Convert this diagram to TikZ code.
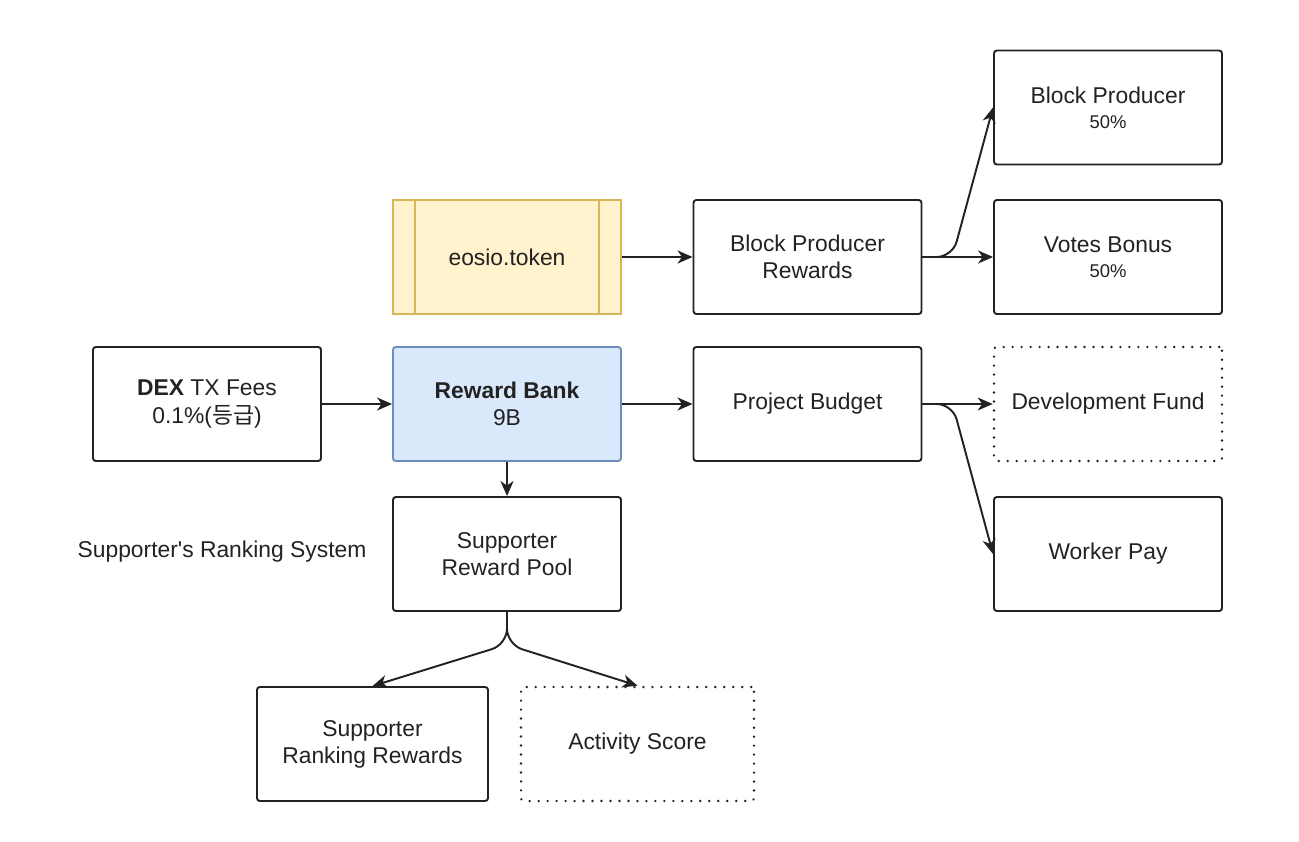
\documentclass[tikz,border=0pt]{standalone}
\usepackage{fontspec}
\setmainfont{Liberation Sans}
\newfontfamily\krfont{Noto Sans CJK KR}
\usetikzlibrary{arrows.meta,positioning,calc}
\definecolor{ink}{HTML}{222222}
\definecolor{tokfill}{HTML}{FFF2CC}
\definecolor{tokline}{HTML}{D6B656}
\definecolor{bankfill}{HTML}{DAE8FC}
\definecolor{bankline}{HTML}{6C8EBF}
\tikzset{
  box/.style={draw=ink, line width=1.1pt, rounded corners=1.6pt, align=center, fill=white,
    minimum width=4.56cm, minimum height=2.28cm, inner sep=1mm, text=ink,
    font=\fontsize{13}{15.4}\selectfont},
  tokbox/.style={box, draw=tokline, fill=tokfill, rounded corners=0pt},
  bankbox/.style={box, draw=bankline, fill=bankfill},
  dotbox/.style={box, dash pattern=on 0.01pt off 5.1pt, line cap=round, line width=1.5pt},
  arrow/.style={-{Stealth[length=3mm, width=2.6mm, inset=0.9mm]}, line width=1.1pt, draw=ink},
  curvearrow/.style={arrow, rounded corners=9pt}
}
\newcommand{\pct}[1]{\\[-1pt]{\fontsize{10.5}{13}\selectfont #1}}

\begin{document}
\begin{tikzpicture}
  \useasboundingbox (0,0) rectangle (25.98,-16.82);
  % top row
  \node[tokbox] (tok) at (10.14,-5.14) {eosio.token};
  \draw[tokline, line width=1.1pt] ([xshift=0.46cm]tok.north west) -- ([xshift=0.46cm]tok.south west);
  \draw[tokline, line width=1.1pt] ([xshift=-0.46cm]tok.north east) -- ([xshift=-0.46cm]tok.south east);
  \node[box] (bpr) at (16.15,-5.14) {Block Producer\\Rewards};
  \node[box] (bp) at (22.16,-2.15) {Block Producer\pct{50\%}};
  \node[box] (vb) at (22.16,-5.14) {Votes Bonus\pct{50\%}};
  % middle row
  \node[box] (dex) at (4.14,-8.08) {\textbf{DEX} TX Fees\\0.1\%({\krfont 등급})};
  \node[bankbox] (bank) at (10.14,-8.08) {\textbf{Reward Bank}\\9B};
  \node[box] (pb) at (16.15,-8.08) {Project Budget};
  \node[dotbox] (dev) at (22.16,-8.08) {Development Fund};
  % lower part
  \node[box] (srp) at (10.14,-11.08) {Supporter\\Reward Pool};
  \node[box] (wp) at (22.16,-11.08) {Worker Pay};
  \node[text=ink, font=\fontsize{13}{15.4}\selectfont] (rank) at (4.44,-11.04) {Supporter\textquotesingle s Ranking System};
  \node[box, minimum width=4.62cm] (srr) at (7.45,-14.88) {Supporter\\Ranking Rewards};
  \node[dotbox, minimum width=4.66cm] (act) at (12.75,-14.88) {Activity Score};

  \draw[arrow] (tok) -- (bpr);
  \draw[arrow] (bpr) -- (vb);
  \draw[curvearrow] (bpr.east) -- ++(0.6,0) -- (bp.west);
  \draw[arrow] (dex) -- (bank);
  \draw[arrow] (bank) -- (pb);
  \draw[arrow] (pb) -- (dev);
  \draw[curvearrow] (pb.east) -- ++(0.6,0) -- (wp.west);
  \draw[arrow] (bank) -- (srp);
  \draw[curvearrow] (srp.south) -- ++(0,-0.65) -- (srr.north);
  \draw[curvearrow] (srp.south) -- ++(0,-0.65) -- (act.north);
\end{tikzpicture}
\end{document}
